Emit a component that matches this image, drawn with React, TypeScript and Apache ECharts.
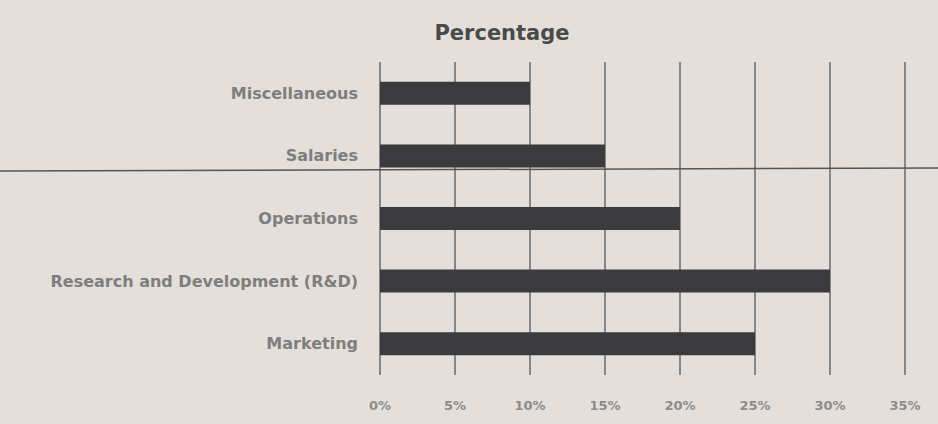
import React, { useEffect, useRef } from "react";
import * as echarts from "echarts";

const categories = [
  "Miscellaneous",
  "Salaries",
  "Operations",
  "Research and Development (R&D)",
  "Marketing",
];
const values = [10, 15, 20, 30, 25];
const xTicks = [0, 5, 10, 15, 20, 25, 30, 35];

export default function App() {
  const ref = useRef<HTMLDivElement>(null);
  useEffect(() => {
    if (!ref.current) return;
    const chart = echarts.init(ref.current, undefined, { renderer: "svg" });
    chart.setOption({
      animation: false,
      backgroundColor: "#e4dfda",
      title: {
        text: "Percentage",
        left: 497,
        textAlign: "center",
        top: 17,
        textStyle: { fontFamily: "DejaVu Sans", fontSize: 21, fontWeight: "bold", color: "#4a4a4a" },
      },
      grid: { left: 380, right: 33, top: 62, bottom: 49 },
      xAxis: {
        type: "value",
        min: xTicks[0],
        max: xTicks[xTicks.length - 1],
        interval: 5,
        axisLine: { show: false },
        axisTick: { show: false },
        splitLine: { show: true, lineStyle: { color: "#6a6a6a", width: 1.5 } },
        axisLabel: {
          formatter: (v: number) => `${v}%`,
          color: "#8c8c8c",
          fontSize: 13,
          fontFamily: "DejaVu Sans",
          fontWeight: "bold",
          margin: 24,
        },
      },
      yAxis: {
        type: "category",
        data: categories,
        inverse: true,
        axisLine: { show: false },
        axisTick: { show: false },
        axisLabel: {
          color: "#7e7e7e",
          fontSize: 16,
          fontFamily: "DejaVu Sans",
          fontWeight: "bold",
          margin: 22,
        },
      },
      series: [
        {
          type: "bar",
          data: values,
          barWidth: 23,
          itemStyle: { color: "#3b3b3d" },
        },
      ],
      graphic: [
        {
          type: "line",
          shape: { x1: 0, y1: 171, x2: 938, y2: 168 },
          style: { stroke: "#555", lineWidth: 1.5 },
          z: 100,
        },
      ],
    });
    return () => chart.dispose();
  }, []);
  return <div ref={ref} style={{ width: 938, height: 424, position: "fixed", left: 0, top: 0 }} />;
}
